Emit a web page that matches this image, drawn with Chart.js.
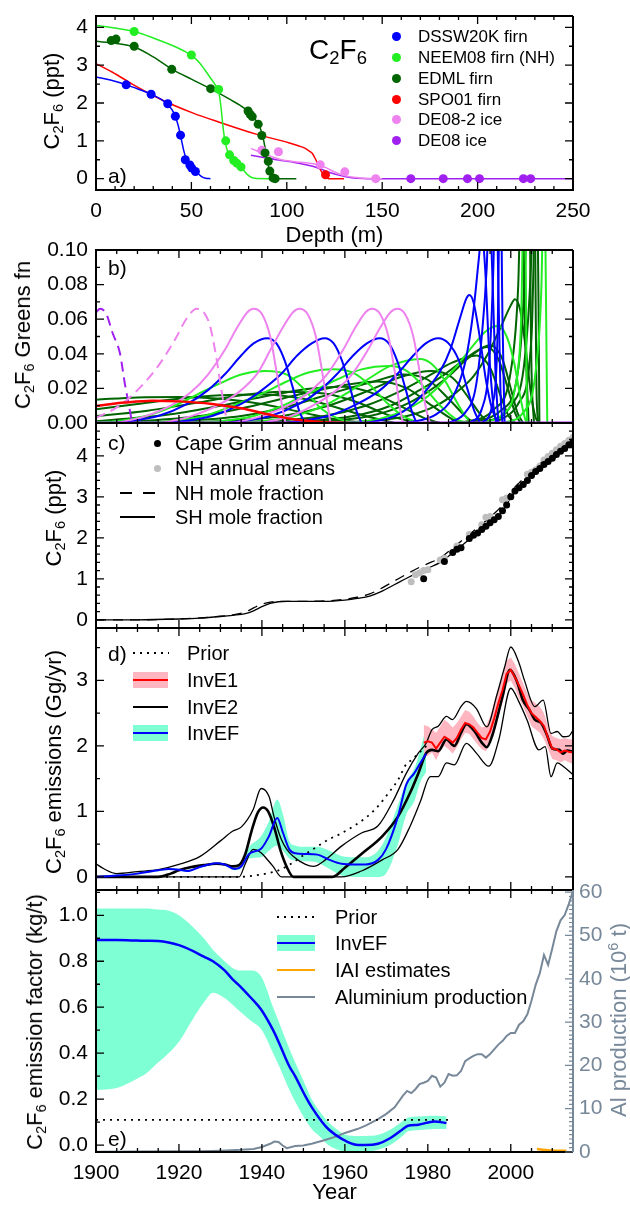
<!DOCTYPE html>
<html>
<head>
<meta charset="utf-8">
<title>C2F6</title>
<script src="https://cdn.jsdelivr.net/npm/chart.js@4.4.1/dist/chart.umd.min.js"></script>
<style>
  html, body { margin: 0; padding: 0; background: #fff; }
  #wrap { position: relative; width: 630px; height: 1206px; overflow: hidden;
          font-family: 'Liberation Sans', Arial, Helvetica, sans-serif; color: #000; }
  #wrap canvas { position: absolute; left: 0; }
  .t { position: absolute; white-space: nowrap; line-height: 1; }
  .t sub { font-size: 66%; vertical-align: -0.28em; line-height: 0; }
  .t sup { font-size: 66%; vertical-align: 0.55em; line-height: 0; }
  .sw { position: absolute; }
</style>
</head>
<body>
<div id="wrap">
  <canvas id="ca" width="630" height="249" style="top:0px"></canvas>
  <canvas id="cb" width="630" height="196" style="top:236px"></canvas>
  <canvas id="cc" width="630" height="211" style="top:420px"></canvas>
  <canvas id="cd" width="630" height="268" style="top:625px"></canvas>
  <canvas id="ce" width="630" height="326" style="top:880px"></canvas>
</div>
<script>
// ---- panel a: firn / ice profiles, [depth m, ppt]
var aNames = ['DSSW20K firn', 'NEEM08 firn (NH)', 'EDML firn', 'SPO01 firn', 'DE08-2 ice', 'DE08 ice'];
var aDepthTicks = [0, 50, 100, 150, 200, 250];
var aPptTicks = [0, 1, 2, 3, 4];
var aDsswPts = [[15.8,2.48],[28.9,2.23],[37.6,1.98],[41.6,1.65],[44.3,1.15],[46.8,0.5],[49.2,0.36],[50.2,0.28],[52.1,0.19]];
var aDsswLine = [[0,2.69],[8,2.6],[16,2.48],[22,2.37],[29,2.23],[34,2.1],[38,1.94],[41,1.72],[43,1.42],[44.5,1.1],[45.8,0.78],[47.3,0.52],[49.5,0.34],[52,0.2],[55,0.07],[57.5,0.01],[60,0]];
var aNeemPts = [[20,3.89],[50,3.27],[64.3,2.36],[68,1.0],[70,0.63],[72.2,0.48],[73.8,0.41],[76,0.31]];
var aNeemLine = [[0,4.05],[10,3.98],[20,3.89],[30,3.72],[40,3.52],[47,3.35],[51,3.22],[54,3.08],[57,2.88],[60,2.66],[62.5,2.48],[64.3,2.3],[65.5,1.9],[66.5,1.4],[67.5,1.02],[69,0.72],[71,0.55],[74,0.41],[77,0.24],[80,0.08],[83,0.01],[90,0],[95,0]];
var aEdmlPts = [[8,3.65],[10.5,3.69],[20,3.5],[39.7,2.89],[60.1,2.38],[79.7,1.79],[80.8,1.7],[81.9,1.64],[85,1.44],[86.9,1.14],[88.6,0.68],[90.3,0.46],[91.1,0.2],[92.8,0.02],[93.9,0]];
var aEdmlLine = [[0,3.63],[10,3.58],[20,3.48],[30,3.22],[40,2.89],[50,2.63],[60,2.38],[70,2.1],[78,1.85],[82,1.65],[85,1.45],[87,1.2],[88.5,0.85],[89.5,0.55],[90.5,0.3],[92,0.08],[94,0.01],[96,0],[105,0]];
var aSpoPts = [[120.3,0.1]];
var aSpoLine = [[0,3.04],[8.4,2.82],[19,2.5],[33.8,2.1],[50.6,1.74],[65.4,1.48],[84.4,1.17],[101,0.95],[106,0.87],[109.7,0.8],[112,0.72],[113.5,0.66],[115,0.52],[116.3,0.38],[118,0.2],[120,0.05],[122,0],[130,0]];
var aDe082Pts = [[86.9,0.75],[95.6,0.71],[117.5,0.37],[130.4,0.18],[146.6,0]];
var aDe082Line = [[81.2,0.8],[90,0.62],[97,0.5],[104,0.45],[110,0.42],[116,0.37],[120,0.3],[124.5,0.19],[129,0.1],[133,0.05],[138,0.02],[143,0.005],[150,0]];
var aDe08Pts = [[165,0],[182,0],[194.7,0],[201,0],[224,0],[227.8,0]];
var aDe08Line = [[81.2,0.62],[90,0.54],[97,0.48],[104,0.43],[110,0.37],[114,0.32],[118,0.25],[122,0.17],[126.6,0.1],[131,0.05],[135,0.02],[140,0.005],[145,0],[250,0]];

// ---- panel b: Greens functions, [year, value]
var bFnTicks = [0, 0.02, 0.04, 0.06, 0.08, 0.10];
var bPurpleDash = [[1900,0.064],[1901,0.066],[1902.5,0.063],[1904,0.052],[1905.8,0.04],[1907,0.022],[1907.8,0.012],[1908.7,0]];
var bPurpleBase = [[1900,0],[2015,0]];
var bPinkDash = [[1900,0.003],[1905,0.009],[1910,0.019],[1915,0.033],[1919,0.048],[1922,0.061],[1924.3,0.066],[1926,0.064],[1927.5,0.056],[1929,0.038],[1930.3,0.018],[1931.6,0]];
var bPink = [
  [[1905,0],[1912,0.004],[1918,0.01],[1923,0.018],[1927,0.028],[1931,0.042],[1934,0.055],[1936.5,0.064],[1938,0.066],[1940,0.063],[1942,0.05],[1943.5,0.03],[1945,0.008],[1945.7,0]],
  [[1916,0],[1923,0.004],[1930,0.011],[1935,0.019],[1939,0.029],[1942,0.042],[1945,0.055],[1947.5,0.064],[1949,0.066],[1951,0.063],[1953,0.05],[1954.5,0.03],[1956,0.008],[1956.5,0]],
  [[1933,0],[1940,0.004],[1947,0.011],[1952,0.019],[1956,0.029],[1959.5,0.042],[1962.5,0.055],[1965,0.064],[1966.5,0.066],[1968.5,0.063],[1970.5,0.05],[1972,0.03],[1973.3,0.008],[1974,0]],
  [[1940,0],[1947,0.004],[1953,0.011],[1958,0.019],[1962,0.029],[1965.5,0.042],[1968.5,0.055],[1971,0.064],[1972.6,0.066],[1974.5,0.063],[1976.5,0.05],[1978,0.03],[1979.6,0.008],[1980.5,0]]
];
var bBlue = [
  [[1905,0],[1915,0.004],[1922,0.011],[1927,0.019],[1931,0.028],[1935,0.039],[1938,0.046],[1941.3,0.049],[1943.5,0.046],[1945.5,0.036],[1947.5,0.02],[1949,0.007],[1950.3,0]],
  [[1918,0],[1928,0.004],[1935,0.011],[1940,0.019],[1944.5,0.028],[1948.5,0.039],[1952,0.046],[1955.1,0.049],[1957.3,0.046],[1959.3,0.036],[1961.3,0.02],[1962.8,0.007],[1964,0]],
  [[1932,0],[1942,0.004],[1949,0.011],[1954,0.019],[1958,0.028],[1962,0.039],[1965.3,0.046],[1968.4,0.049],[1970.6,0.046],[1972.6,0.036],[1974.6,0.02],[1976.1,0.007],[1977.3,0]],
  [[1946,0],[1956,0.004],[1963,0.011],[1968.5,0.019],[1972.5,0.028],[1976.5,0.039],[1979.5,0.046],[1982.5,0.049],[1985,0.046],[1987.5,0.036],[1989.5,0.02],[1991.2,0.007],[1992.6,0]],
  [[1965,0],[1972,0.004],[1976.5,0.011],[1980,0.02],[1983,0.03],[1985.5,0.043],[1987.8,0.061],[1989.3,0.072],[1990,0.074],[1991,0.07],[1992.5,0.05],[1994,0.025],[1995.5,0.008],[1997,0]],
  [[1975,0],[1982,0.005],[1986,0.015],[1989,0.035],[1991,0.065],[1992.3,0.095],[1993,0.11],[1993.8,0.09],[1994.8,0.04],[1995.8,0.01],[1996.5,0]],
  [[1985,0],[1989,0.006],[1991.5,0.02],[1993,0.05],[1994.2,0.09],[1994.8,0.13],[1995.5,0.09],[1996.3,0.03],[1997,0]],
  [[1990,0],[1993,0.008],[1994.8,0.035],[1995.8,0.09],[1996.4,0.15],[1997,0.08],[1997.5,0.02],[1998,0]],
  [[1993,0],[1995.5,0.01],[1996.8,0.05],[1997.5,0.15],[1998,0.06],[1998.5,0]]
];
var bLime = [
  [[1900,0.0005],[1905,0.001],[1912,0.004],[1918,0.009],[1924,0.016],[1930,0.023],[1935,0.028],[1940.8,0.03],[1946,0.028],[1950,0.02],[1954,0.009],[1958,0.003],[1962,0]],
  [[1905,0],[1918,0.001],[1926,0.004],[1933,0.01],[1940,0.017],[1946,0.024],[1951,0.029],[1957.3,0.031],[1962,0.029],[1966,0.022],[1970,0.012],[1974,0.004],[1978,0]],
  [[1920,0],[1930,0.001],[1938,0.004],[1945,0.01],[1952,0.018],[1958,0.025],[1964,0.031],[1970.9,0.033],[1975,0.03],[1979,0.021],[1983,0.01],[1987,0.002],[1990,0]],
  [[1930,0],[1940,0.001],[1948,0.004],[1955,0.01],[1961,0.018],[1966,0.026],[1971,0.033],[1978.1,0.037],[1981,0.034],[1984,0.025],[1987,0.012],[1989,0.004],[1990.5,0]],
  [[1955,0],[1965,0.001],[1972,0.005],[1978,0.012],[1983,0.022],[1987,0.033],[1991,0.045],[1994,0.053],[1997,0.056],[1999,0.05],[2000.8,0.035],[2002.3,0.015],[2003.5,0.002],[2004,0]],
  [[1993,0],[1998,0.005],[2001,0.02],[2002.5,0.06],[2003.3,0.15],[2003.9,0]],
  [[1998,0],[2003,0.006],[2006,0.03],[2007.4,0.08],[2008,0.15],[2008.8,0]]
];
var bGreen = [
  [[1900,0.0135],[1910,0.0148],[1920,0.015],[1930,0.014],[1940,0.011],[1950,0.006],[1958,0.002],[1965,0]],
  [[1900,0.008],[1910,0.011],[1920,0.014],[1930,0.016],[1940,0.0165],[1950,0.014],[1958,0.009],[1965,0.004],[1972,0]],
  [[1900,0.004],[1912,0.007],[1925,0.012],[1935,0.016],[1945,0.018],[1955,0.017],[1963,0.012],[1970,0.005],[1977,0]],
  [[1900,0.001],[1905,0.002],[1918,0.005],[1930,0.01],[1942,0.016],[1952,0.02],[1960,0.021],[1967,0.017],[1974,0.009],[1980,0.002],[1983,0]],
  [[1900,0],[1910,0.001],[1925,0.004],[1938,0.01],[1950,0.017],[1960,0.022],[1968,0.024],[1975,0.02],[1981,0.01],[1986,0.002],[1988,0]],
  [[1905,0],[1920,0.001],[1935,0.004],[1947,0.01],[1958,0.018],[1967,0.024],[1974,0.028],[1980,0.025],[1985,0.014],[1989,0.004],[1991,0]],
  [[1915,0],[1930,0.001],[1945,0.004],[1956,0.01],[1966,0.019],[1974,0.027],[1981,0.03],[1986,0.026],[1990,0.014],[1993,0.004],[1995,0]],
  [[1925,0],[1940,0.001],[1955,0.004],[1965,0.01],[1973,0.018],[1980,0.027],[1986,0.035],[1991.8,0.039],[1995,0.032],[1997.5,0.016],[1999.5,0.004],[2001,0]],
  [[1935,0],[1950,0.001],[1962,0.004],[1971,0.01],[1978,0.019],[1984,0.028],[1989,0.037],[1994.2,0.044],[1997,0.037],[1999.3,0.02],[2001,0.006],[2002.3,0]],
  [[1940,0],[1955,0.001],[1966,0.004],[1974,0.01],[1980,0.018],[1985,0.027],[1990,0.038],[1995,0.045],[1997.8,0.038],[2000,0.02],[2001.6,0.006],[2003,0]],
  [[1950,0],[1965,0.001],[1975,0.004],[1982,0.01],[1987,0.018],[1991,0.027],[1994.5,0.04],[1997.5,0.055],[2000,0.068],[2001,0.0715],[2002.2,0.066],[2003.5,0.045],[2004.8,0.018],[2006,0.003],[2007,0]],
  [[1988,0],[1996,0.008],[2000,0.03],[2001.8,0.08],[2002.6,0.15],[2003.5,0.05],[2004.3,0]],
  [[1990,0],[1998,0.008],[2002,0.035],[2003.6,0.1],[2004.3,0.16],[2005,0.03],[2005.6,0]],
  [[1993,0],[2000,0.01],[2003.5,0.04],[2005,0.1],[2005.6,0.16],[2006.2,0.02],[2006.6,0]],
  [[1996,0],[2002,0.012],[2005,0.05],[2006.3,0.16],[2006.9,0]]
];
var bRed = [[1900,0.0098],[1907,0.0118],[1913.6,0.0129],[1920,0.0125],[1928,0.011],[1935,0.0085],[1942,0.0048],[1948,0.002],[1955,0.0005],[1961,0]];

// ---- shared year axis
var yearTicks = [1900, 1920, 1940, 1960, 1980, 2000];

// ---- panel c: mole fractions (ppt)
var cNames = ['Cape Grim annual means', 'NH annual means', 'NH mole fraction', 'SH mole fraction'];
var cPptTicks = [0, 1, 2, 3, 4];
var cLineYears = [1900,1910,1920,1925,1930,1933,1936,1938,1940,1942,1944,1946,1950,1955,1960,1963,1966,1969,1972,1975,1978,1980,1983,1986,1989,1992,1995,1998,2000,2002,2004,2006,2008,2010,2012,2015];
var cSH = [0,0,0.02,0.04,0.08,0.11,0.15,0.22,0.32,0.4,0.44,0.45,0.45,0.45,0.48,0.52,0.58,0.7,0.86,1.02,1.17,1.26,1.4,1.63,1.88,2.12,2.36,2.64,2.98,3.22,3.4,3.61,3.79,3.94,4.11,4.34];
var cNH = [0,0,0.02,0.045,0.09,0.12,0.19,0.29,0.38,0.43,0.45,0.45,0.45,0.46,0.5,0.55,0.63,0.78,0.95,1.12,1.28,1.37,1.51,1.75,2.0,2.25,2.5,2.8,3.12,3.34,3.52,3.71,3.9,4.05,4.2,4.44];
var cCgYears = [1979,1984,1986,1987,1988,1990,1991,1992,1993,1994,1995,1996,1997,1998,1999,2000,2001,2002,2003,2004,2005,2006,2007,2008,2009,2010,2011,2012,2013,2014,2015];
var cCgVals = [1.0,1.42,1.64,1.72,1.76,1.98,2.06,2.12,2.2,2.28,2.37,2.44,2.52,2.66,2.8,3.0,3.14,3.22,3.3,3.4,3.52,3.62,3.69,3.79,3.86,3.94,4.03,4.11,4.18,4.27,4.34];
var cNhYears = [1976,1977,1978,1979,1980,1983,1984,1987,1990,1993,1994,1995,1998,1999,2004,2005,2006,2007,2008,2009,2010,2011,2012,2013,2014,2015];
var cNhVals = [0.93,1.1,1.14,1.2,1.22,1.46,1.5,1.8,2.08,2.32,2.5,2.52,2.93,2.97,3.55,3.6,3.66,3.75,3.9,3.98,4.06,4.15,4.23,4.3,4.38,4.45];

// ---- panel d: emissions (Gg/yr)
var dNames = ['Prior', 'InvE1', 'InvE2', 'InvEF'];
var dEmTicks = [0, 1, 2, 3];
var dPriorYears = [1900,1934.5,1938,1941,1944,1947,1950,1953,1956,1959,1962,1965,1968,1970.5,1972.8,1974.8,1976,1978,1980];
var dPrior = [0,0,0.02,0.05,0.1,0.2,0.33,0.45,0.57,0.66,0.77,0.9,1.08,1.28,1.48,1.72,1.78,1.9,2.02];
var dE2Years = [1900,1915,1918,1920,1923,1926,1929,1931,1933,1934.5,1936,1937.5,1939,1940.3,1941.5,1943,1944.5,1946,1947.6,1957,1960,1964,1969,1972.8,1975.7,1977.7,1979.6,1981,1982.5,1984.5,1986.4,1988,1989.3,1991.3,1993,1994.2,1995.6,1997,1998,1999.8,2001.5,2002.9,2004.5,2005.8,2007.3,2008.7,2010,2011.7,2012.6,2013.6,2015];
var dE2 = [0,0,0.05,0.1,0.15,0.18,0.2,0.19,0.16,0.18,0.35,0.7,0.98,1.06,1.0,0.75,0.4,0.15,0,0,0.14,0.35,0.62,0.92,1.28,1.58,1.89,1.94,1.92,2.1,2.0,2.2,2.33,2.22,2.05,1.98,2.17,2.5,2.75,3.16,2.98,2.7,2.55,2.4,2.35,2.17,1.96,1.94,1.88,1.93,1.91];
var dE2HiYears = [1900,1902,1905,1910,1915,1920,1925,1930,1933,1935,1937.9,1939.8,1941.7,1943,1944.7,1946,1947.6,1950.5,1952.4,1955.3,1959.2,1964,1968,1971.8,1974.8,1977.7,1979.6,1981,1982.5,1984.5,1985.9,1988,1989.3,1991.7,1994.2,1996.6,1998.5,2000,2001.9,2003.3,2005.8,2007.8,2009.7,2011.2,2012.6,2014,2015];
var dE2Hi = [0.2,0.12,0.05,0.08,0.11,0.19,0.31,0.55,0.7,0.76,1.03,1.35,1.23,0.9,0.57,0.42,0.31,0.19,0.16,0.26,0.47,0.67,0.78,1.18,1.58,1.89,2.04,2.25,2.3,2.45,2.4,2.6,2.68,2.57,2.29,2.77,3.2,3.51,3.28,3.0,2.6,2.7,2.19,2.22,2.14,2.15,2.24];
var dE2LoYears = [1900,1934.5,1936,1937.9,1939.8,1941.5,1942.7,1944.7,1959.2,1964,1969,1972.8,1975.7,1978.2,1980.6,1982.5,1984.5,1986.4,1989.3,1991.7,1994.7,1997.1,2000,2001.9,2003.9,2006.8,2008.3,2009.7,2011.2,2012.6,2015];
var dE2Lo = [0,0,0.2,0.42,0.37,0.25,0.16,0,0,0.09,0.26,0.42,0.77,1.15,1.53,1.53,1.74,1.71,2.04,1.89,1.69,2.09,2.88,2.68,2.4,1.94,1.99,1.53,1.74,1.69,1.56];
var dE1Years = [1979,1980,1981,1982,1983,1984,1985,1986,1987,1988,1989,1990,1991,1992,1993,1994,1995,1996,1997,1998,1999,2000,2001,2002,2003,2004,2005,2006,2007,2008,2009,2010,2011,2012,2013,2014,2015];
var dE1 = [2.05,2.07,2.05,1.96,2.05,2.14,2.1,2.05,2.12,2.25,2.35,2.33,2.28,2.2,2.12,2.1,2.22,2.42,2.65,2.85,3.1,3.16,3.05,2.92,2.78,2.62,2.5,2.44,2.38,2.3,2.12,1.96,1.95,1.9,1.93,1.91,1.9];
var dE1Hi = [2.32,2.3,2.25,2.2,2.3,2.4,2.35,2.28,2.35,2.45,2.55,2.52,2.45,2.35,2.28,2.3,2.45,2.65,2.85,3.05,3.3,3.35,3.25,3.1,2.95,2.8,2.7,2.65,2.6,2.5,2.3,2.15,2.12,2.1,2.12,2.1,2.1];
var dE1Lo = [1.85,1.85,1.9,1.78,1.92,2.0,1.95,1.88,1.98,2.1,2.2,2.18,2.1,2.02,1.95,1.92,2.05,2.25,2.5,2.65,2.95,3.0,2.88,2.72,2.6,2.45,2.3,2.25,2.2,2.1,1.95,1.8,1.78,1.75,1.78,1.75,1.72];
var dEFYears = [1900,1905,1910,1915,1917.5,1920,1922,1925,1929,1931,1933.5,1935,1936.9,1939.8,1941.7,1943.7,1945.1,1946.6,1948,1950.5,1953.4,1956.3,1959.2,1962.1,1965,1968,1969.9,1972.8,1974.8,1976.7,1978.2,1979.6];
var dEF = [0,0.02,0.05,0.1,0.12,0.11,0.09,0.15,0.21,0.19,0.12,0.16,0.35,0.43,0.62,0.9,0.67,0.42,0.36,0.35,0.34,0.26,0.2,0.19,0.19,0.26,0.42,0.92,1.41,1.58,1.74,1.88];
var dEFHi = [0.01,0.035,0.065,0.115,0.135,0.125,0.105,0.165,0.225,0.205,0.14,0.19,0.45,0.62,0.85,1.18,0.95,0.55,0.48,0.46,0.46,0.4,0.32,0.3,0.3,0.4,0.6,1.1,1.45,1.65,1.95,2.29];
var dEFLo = [0,0.005,0.035,0.085,0.105,0.095,0.075,0.135,0.195,0.175,0.1,0.13,0.28,0.3,0.4,0.48,0.4,0.28,0.25,0.24,0.22,0.12,0.02,0,0,0,0.05,0.5,0.95,1.15,1.45,1.6];

// ---- panel e: emission factor (kg/t) and aluminium production (10^6 t)
var eNames = ['Prior', 'InvEF', 'IAI estimates', 'Aluminium production'];
var eEfTicks = [0, 0.2, 0.4, 0.6, 0.8, 1.0];
var eAlTicks = [0, 10, 20, 30, 40, 50, 60];
var eYears = [1900,1905,1910,1912,1915,1917.5,1920,1923.3,1926,1928.2,1931,1933,1934.8,1937.4,1939.8,1942.7,1944,1946.6,1948,1950.5,1952,1954.4,1956,1958.3,1960.2,1962.1,1965,1968,1970.9,1973.8,1975.2,1977.7,1981.6,1984.5];
var eEF = [0.892,0.892,0.89,0.889,0.888,0.882,0.87,0.845,0.82,0.8,0.76,0.72,0.69,0.64,0.59,0.5,0.45,0.343,0.3,0.212,0.165,0.103,0.07,0.038,0.018,0.004,0,0.006,0.03,0.067,0.084,0.089,0.103,0.096];
var eEFHi = [1.03,1.03,1.03,1.03,1.025,1.02,1.0,0.95,0.9,0.85,0.8,0.77,0.76,0.76,0.735,0.6,0.54,0.42,0.36,0.26,0.2,0.135,0.1,0.065,0.045,0.04,0.04,0.045,0.067,0.103,0.12,0.125,0.128,0.125];
var eEFLo = [0.24,0.249,0.29,0.31,0.36,0.4,0.45,0.547,0.62,0.663,0.64,0.61,0.58,0.54,0.505,0.4,0.35,0.241,0.19,0.11,0.07,0.03,0,-0.02,-0.028,-0.03,-0.03,-0.02,0,0.038,0.06,0.065,0.07,0.07];
var ePrior = [[1900,0.11],[1985,0.11]];
var eIAI = [[2006.3,-0.017],[2009,-0.022],[2013.4,-0.025]];
var eAlYears = [1900,1910,1920,1925,1930,1935,1938,1940,1942,1943,1944,1945,1946,1948,1950,1952,1955,1958,1960,1963,1965,1968,1970,1972,1974,1975,1976,1977,1978,1979,1980,1981,1982,1983,1984,1985,1986,1987,1988,1989,1990,1991,1992,1993,1994,1995,1996,1997,1998,1999,2000,2001,2002,2003,2004,2005,2006,2007,2008,2009,2010,2011,2012,2013,2014,2015];
var eAl = [0.05,0.1,0.15,0.2,0.3,0.5,0.7,1.15,1.9,2.4,2.3,1.5,0.9,1.4,1.5,1.9,2.7,3.6,4.4,5.3,6.1,7.6,8.8,10.3,13,14.1,13.6,14.5,15.7,16,16.4,17.6,17.2,15.1,16,18,17.6,17.7,18.7,21,21.6,22.2,22.6,22.6,21.8,22.6,23.7,24.8,25.6,26.8,27.5,27.5,29.4,30.2,31.8,35,38.6,41.3,45.5,43.2,47,51,53.5,54.7,57.3,60.3];

// ---------------------------------------------------------------
var F = "'Liberation Sans', Arial, Helvetica, sans-serif";
var cBlue = '#0000ff', cLime = '#22ee22', cDkGreen = '#006400', cRed = '#ff0000',
    cViolet = '#ee82ee', cPurple = '#a020f0', cPink = '#ffb6c1', cAqua = '#7fffd4',
    cSlate = '#778899', cOrange = '#ffa500', cLtGray = '#bebebe';

Chart.defaults.font.family = F;

function pairs(p) { return p.map(function (d) { return { x: d[0], y: d[1] }; }); }
function zip(xs, ys) { return xs.map(function (x, i) { return { x: x, y: ys[i] }; }); }
function seq(a, b, s) { var r = []; for (var v = a; v <= b + 1e-9; v += s) r.push(+v.toFixed(4)); return r; }

function line(data, color, w, extra) {
  return Object.assign({ data: data, borderColor: color, backgroundColor: color, borderWidth: w,
    pointRadius: 0, fill: false, cubicInterpolationMode: 'monotone', order: 1 }, extra || {});
}
function dots(data, color, r) {
  return { data: data, showLine: false, pointRadius: r, pointBackgroundColor: color,
    pointBorderWidth: 0, borderColor: color, backgroundColor: color, order: 0 };
}

// frame with inward ticks on all sides
var framePlugin = {
  id: 'frame',
  afterDraw: function (chart, args, o) {
    var ctx = chart.ctx, a = chart.chartArea, sx = chart.scales.x, sy = chart.scales.y;
    ctx.save();
    ctx.strokeStyle = '#000';
    ctx.lineWidth = 1.3;
    ctx.beginPath();
    function xt(vals, len) {
      vals.forEach(function (v) {
        var p = sx.getPixelForValue(v);
        ctx.moveTo(p, a.bottom); ctx.lineTo(p, a.bottom - len);
        ctx.moveTo(p, a.top); ctx.lineTo(p, a.top + len);
      });
    }
    function yt(vals, len, right) {
      vals.forEach(function (v) {
        var p = sy.getPixelForValue(v);
        ctx.moveTo(a.left, p); ctx.lineTo(a.left + len, p);
        if (right) { ctx.moveTo(a.right, p); ctx.lineTo(a.right - len, p); }
      });
    }
    xt(o.xMajor, 8); xt(o.xMinor, 4);
    yt(o.yMajor, 8, !o.y2); yt(o.yMinor, 4, !o.y2);
    ctx.stroke();
    ctx.lineWidth = 2;
    ctx.beginPath();
    ctx.moveTo(a.right, a.top); ctx.lineTo(a.left, a.top); ctx.lineTo(a.left, a.bottom); ctx.lineTo(a.right, a.bottom);
    if (!o.y2) ctx.lineTo(a.right, a.top);
    ctx.stroke();
    if (o.y2) {
      var s2 = chart.scales.y2;
      ctx.strokeStyle = o.y2.color;
      ctx.lineWidth = 1.2;
      ctx.beginPath();
      o.y2.major.forEach(function (v) { var p = s2.getPixelForValue(v); ctx.moveTo(a.right, p); ctx.lineTo(a.right - 8, p); });
      o.y2.minor.forEach(function (v) { var p = s2.getPixelForValue(v); ctx.moveTo(a.right, p); ctx.lineTo(a.right - 4, p); });
      ctx.stroke();
      ctx.lineWidth = 2;
      ctx.beginPath(); ctx.moveTo(a.right, a.top); ctx.lineTo(a.right, a.bottom); ctx.stroke();
    }
    ctx.restore();
  }
};
Chart.register(framePlugin);

function yScale(min, max, ticks, dec, pos, width, color) {
  return {
    type: 'linear', position: pos || 'left', min: min, max: max,
    afterBuildTicks: function (s) { s.ticks = ticks.map(function (v) { return { value: v }; }); },
    afterFit: function (s) { s.width = width || 96; s.paddingTop = 0; s.paddingBottom = 0; },
    grid: { display: false, drawTicks: false }, border: { display: false },
    ticks: { color: color || '#000', font: { size: 21 }, padding: pos === 'right' ? 6 : 8, autoSkip: false,
      callback: function (v) { return v.toFixed(dec); } }
  };
}
function xScale(min, max, ticks, show, height, title) {
  return {
    type: 'linear', position: 'bottom', min: min, max: max, display: show,
    afterBuildTicks: function (s) { s.ticks = ticks.map(function (v) { return { value: v }; }); },
    afterFit: function (s) { s.height = height; s.paddingLeft = 0; s.paddingRight = 0; },
    grid: { display: false, drawTicks: false }, border: { display: false },
    ticks: { color: '#000', font: { size: 21 }, padding: 9, autoSkip: false, maxRotation: 0,
      callback: function (v) { return String(v); } },
    title: { display: !!title, text: title || '', color: '#000', font: { size: 22 }, padding: 0 }
  };
}
function baseOpts(pad, scales, frame) {
  return {
    responsive: false, animation: false, events: [],
    layout: { padding: pad, autoPadding: false },
    plugins: { legend: { display: false }, tooltip: { enabled: false }, frame: frame },
    scales: scales
  };
}
var yearMinor = seq(1905, 2015, 5);

// ---- chart a
new Chart(document.getElementById('ca'), {
  type: 'line',
  data: { datasets: [
    line(pairs(aDsswLine), cBlue, 1.5), dots(pairs(aDsswPts), cBlue, 4.5),
    line(pairs(aNeemLine), cLime, 1.5), dots(pairs(aNeemPts), cLime, 4.5),
    line(pairs(aEdmlLine), cDkGreen, 1.5), dots(pairs(aEdmlPts), cDkGreen, 4.5),
    line(pairs(aSpoLine), cRed, 1.5), dots(pairs(aSpoPts), cRed, 4.5),
    line(pairs(aDe082Line), cViolet, 1.5), dots(pairs(aDe082Pts), cViolet, 4.5),
    line(pairs(aDe08Line), cPurple, 1.5), dots(pairs(aDe08Pts), cPurple, 4.5)
  ] },
  options: baseOpts({ top: 16, right: 57, left: 0, bottom: 0 }, {
    x: xScale(0, 250, aDepthTicks, true, 59, 'Depth (m)'),
    y: yScale(-0.3, 4.3, aPptTicks, 0)
  }, { xMajor: aDepthTicks, xMinor: seq(10, 240, 10), yMajor: aPptTicks, yMinor: [0.5, 1.5, 2.5, 3.5] })
});

// ---- chart b
var bSets = [];
bGreen.forEach(function (c) { bSets.push(line(pairs(c), cDkGreen, 2, { order: 4 })); });
bLime.forEach(function (c) { bSets.push(line(pairs(c), cLime, 2, { order: 3 })); });
bBlue.forEach(function (c) { bSets.push(line(pairs(c), cBlue, 2, { order: 2 })); });
bPink.forEach(function (c) { bSets.push(line(pairs(c), cViolet, 2, { order: 1 })); });
bSets.push(line(pairs(bPinkDash), cViolet, 2, { order: 1, borderDash: [10, 6] }));
bSets.push(line(pairs(bPurpleDash), cPurple, 2, { order: 1, borderDash: [10, 6] }));
bSets.push(line(pairs(bRed), cRed, 2.5, { order: 0 }));
bSets.push(line(pairs(bPurpleBase), cPurple, 3, { order: 0 }));
new Chart(document.getElementById('cb'), {
  type: 'line',
  data: { datasets: bSets },
  options: baseOpts({ top: 14, right: 57, left: 0, bottom: 9 }, {
    x: xScale(1900, 2015, yearTicks, false, 0),
    y: yScale(0, 0.1, bFnTicks, 2)
  }, { xMajor: yearTicks, xMinor: yearMinor, yMajor: bFnTicks, yMinor: seq(0.01, 0.09, 0.02) })
});

// ---- chart c
new Chart(document.getElementById('cc'), {
  type: 'line',
  data: { datasets: [
    dots(zip(cCgYears, cCgVals), '#000', 3.5),
    dots(zip(cNhYears, cNhVals), cLtGray, 3.5),
    line(zip(cLineYears, cNH), '#000', 1.3, { borderDash: [10, 7], order: 1 }),
    line(zip(cLineYears, cSH), '#000', 1.3, { order: 1 })
  ] },
  options: baseOpts({ top: 3, right: 57, left: 0, bottom: 3 }, {
    x: xScale(1900, 2015, yearTicks, false, 0),
    y: yScale(-0.2, 4.8, cPptTicks, 0)
  }, { xMajor: yearTicks, xMinor: yearMinor, yMajor: cPptTicks, yMinor: seq(-0.2, 4.8, 0.2) })
});

// ---- chart d
new Chart(document.getElementById('cd'), {
  type: 'line',
  data: { datasets: [
    line(zip(dE1Years, dE1Hi), cPink, 0, { fill: '+1', backgroundColor: cPink, order: 6, cubicInterpolationMode: 'default', tension: 0 }),
    line(zip(dE1Years, dE1Lo), cPink, 0, { order: 6, cubicInterpolationMode: 'default', tension: 0 }),
    line(zip(dEFYears, dEFHi), cAqua, 0, { fill: '+1', backgroundColor: cAqua, order: 6 }),
    line(zip(dEFYears, dEFLo), cAqua, 0, { order: 6 }),
    line(zip(dPriorYears, dPrior), '#000', 1.8, { borderDash: [2, 5], order: 4 }),
    line(zip(dE2HiYears, dE2Hi), '#000', 1.3, { order: 3 }),
    line(zip(dE2LoYears, dE2Lo), '#000', 1.3, { order: 3 }),
    line(zip(dE2Years, dE2), '#000', 2.6, { order: 2 }),
    line(zip(dE1Years, dE1), cRed, 2, { order: 1, cubicInterpolationMode: 'default', tension: 0 }),
    line(zip(dEFYears, dEF), cBlue, 2, { order: 1 })
  ] },
  options: baseOpts({ top: 3, right: 57, left: 0, bottom: 3 }, {
    x: xScale(1900, 2015, yearTicks, false, 0),
    y: yScale(-0.2, 3.8, dEmTicks, 0)
  }, { xMajor: yearTicks, xMinor: yearMinor, yMajor: dEmTicks, yMinor: [0.5, 1.5, 2.5, 3.5] })
});

// ---- chart e
new Chart(document.getElementById('ce'), {
  type: 'line',
  data: { datasets: [
    line(zip(eYears, eEFHi), cAqua, 0, { fill: '+1', backgroundColor: cAqua, order: 6 }),
    line(zip(eYears, eEFLo), cAqua, 0, { order: 6 }),
    line(zip(eAlYears, eAl), cSlate, 2, { yAxisID: 'y2', order: 4, cubicInterpolationMode: 'default', tension: 0 }),
    line(pairs(ePrior), '#000', 1.8, { borderDash: [2, 5], order: 3 }),
    line(zip(eYears, eEF), cBlue, 2.5, { order: 1 }),
    line(pairs(eIAI), cOrange, 2.5, { order: 1 })
  ] },
  options: baseOpts({ top: 10, right: 0, left: 0, bottom: 0 }, {
    x: xScale(1900, 2015, yearTicks, true, 54, 'Year'),
    y: yScale(-0.03, 1.11, eEfTicks, 1),
    y2: yScale(0, 60.5, eAlTicks, 0, 'right', 57, cSlate)
  }, { xMajor: yearTicks, xMinor: yearMinor, yMajor: eEfTicks, yMinor: seq(0.1, 1.1, 0.2),
       y2: { color: cSlate, major: eAlTicks, minor: seq(1, 60, 1) } })
});

// ---- text overlays and legend keys
var wrap = document.getElementById('wrap');
function txt(x, y, html, size, o) {
  o = o || {};
  var d = document.createElement('div');
  d.className = 't';
  d.innerHTML = html;
  d.style.left = x + 'px'; d.style.top = y + 'px'; d.style.fontSize = size + 'px';
  d.style.transform = o.rot ? 'translate(-50%,-50%) rotate(-90deg)' : 'translateY(-50%)';
  if (o.color) d.style.color = o.color;
  wrap.appendChild(d);
}
function box(x, y, w, h, css) {
  var d = document.createElement('div');
  d.className = 'sw';
  d.style.left = x + 'px'; d.style.top = (y - h / 2) + 'px';
  d.style.width = w + 'px'; d.style.height = h + 'px';
  d.style.background = css;
  wrap.appendChild(d);
}
function dot(x, y, r, color) {
  var d = document.createElement('div');
  d.className = 'sw';
  d.style.left = (x - r) + 'px'; d.style.top = (y - r) + 'px';
  d.style.width = 2 * r + 'px'; d.style.height = 2 * r + 'px';
  d.style.borderRadius = '50%'; d.style.background = color;
  wrap.appendChild(d);
}
var dotted = 'repeating-linear-gradient(to right, #000 0px, #000 2px, transparent 2px, transparent 7px)';
var C2F6 = 'C<sub>2</sub>F<sub>6</sub>';

// axis titles
txt(52, 101, C2F6 + ' (ppt)', 22, { rot: true });
txt(23, 335, C2F6 + ' Greens fn', 22, { rot: true });
txt(54, 518, C2F6 + ' (ppt)', 22, { rot: true });
txt(54, 762, C2F6 + ' emissions (Gg/yr)', 22, { rot: true });
txt(35, 1022, C2F6 + ' emission factor (kg/t)', 22, { rot: true });
txt(619, 1020, 'Al production (10<sup>6</sup> t)', 22, { rot: true, color: cSlate });

// panel labels
txt(108, 175, 'a)', 21);
txt(108, 267, 'b)', 21);
txt(108, 442, 'c)', 21);
txt(108, 653, 'd)', 21);
txt(108, 1138, 'e)', 21);

// panel a legend
txt(309, 50, C2F6, 28);
var aColors = [cBlue, cLime, cDkGreen, cRed, cViolet, cPurple];
var aRows = [36, 57, 78, 99, 119, 140];
aNames.forEach(function (n, i) { dot(396, aRows[i], 4.5, aColors[i]); txt(418, aRows[i], n, 17); });

// panel c legend
var cRows = [443, 468, 493, 517];
dot(157, cRows[0], 3.5, '#000');
dot(157, cRows[1], 3.5, cLtGray);
box(120, cRows[2], 12, 1.5, '#000'); box(143, cRows[2], 12, 1.5, '#000');
box(120, cRows[3], 35, 1.5, '#000');
cNames.forEach(function (n, i) { txt(175, cRows[i], n, 20); });

// panel d legend
var dRows = [653, 680, 707, 733];
box(133, dRows[0], 36, 2, dotted);
box(133, dRows[1], 35, 16, cPink); box(133, dRows[1], 35, 2, cRed);
box(133, dRows[2], 35, 1.5, '#000');
box(133, dRows[3], 35, 16, cAqua); box(133, dRows[3], 35, 2.5, cBlue);
dNames.forEach(function (n, i) { txt(187, dRows[i], n, 20); });

// panel e legend
var eRows = [917, 943, 970, 997];
box(277, eRows[0], 38, 2, dotted);
box(277, eRows[1], 38, 16, cAqua); box(277, eRows[1], 38, 2.5, cBlue);
box(277, eRows[2], 38, 2.5, cOrange);
box(277, eRows[3], 38, 2, cSlate);
eNames.forEach(function (n, i) { txt(335, eRows[i], n, 20); });
</script>
</body>
</html>
